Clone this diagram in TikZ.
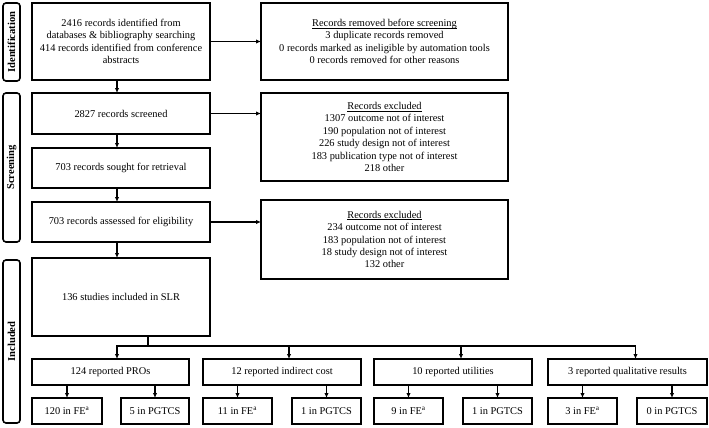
\documentclass[tikz,border=0pt]{standalone}
\usepackage{fontspec}
\setmainfont{Liberation Serif}
\usetikzlibrary{arrows.meta,calc}
\newcommand{\ttl}[1]{\underline{\smash{#1}}\vphantom{#1}}
\begin{document}
\begin{tikzpicture}[x=1pt,y=-1pt,
  every node/.style={font=\fontsize{10.4}{12.4}\selectfont},
  box/.style={draw, line width=1.6pt, inner sep=0pt, outer sep=0pt, align=center, anchor=north west},
  lab/.style={draw, line width=1.6pt, rounded corners=3pt, inner sep=0pt, outer sep=0pt, anchor=north west},
  labtext/.style={rotate=90, font=\fontsize{10.6}{12}\selectfont\bfseries},
  arr/.style={line width=1.1pt, -{Latex[length=5pt,width=4.5pt]}},
  ln/.style={line width=1.1pt}]
\useasboundingbox (0,0) rectangle (709,428);
% stage labels
\node[lab, minimum width=17pt, minimum height=78pt] (L1) at (3,3) {};
\node[labtext] (T1) at (L1.center) {Identification};
\node[lab, minimum width=17pt, minimum height=149pt] (L2) at (3,93) {};
\node[labtext] (T2) at (L2.center) {Screening};
\node[lab, minimum width=17pt, minimum height=163pt] (L3) at (3,260) {};
\node[labtext] (T3) at (L3.center) {Included};
% main column
\node[box, minimum width=178pt, minimum height=77pt] (b1) at (32,3) {2416 records identified from\\databases \& bibliography searching\\414 records identified from conference\\abstracts};
\node[box, minimum width=178pt, minimum height=41pt] (b2) at (32,93) {2827 records screened};
\node[box, minimum width=178pt, minimum height=40pt] (b3) at (32,148) {703 records sought for retrieval};
\node[box, minimum width=178pt, minimum height=40pt] (b4) at (32,202) {703 records assessed for eligibility};
\node[box, minimum width=178pt, minimum height=78pt] (b5) at (32,258) {136 studies included in SLR};
% right column
\node[box, minimum width=247pt, minimum height=77pt] (r1) at (261,3) {\ttl{Records removed before screening}\\3 duplicate records removed\\0 records marked as ineligible by automation tools\\0 records removed for other reasons};
\node[box, minimum width=247pt, minimum height=88pt] (r2) at (261,93) {\ttl{Records excluded}\\1307 outcome not of interest\\190 population not of interest\\226 study design not of interest\\183 publication type not of interest\\218 other};
\node[box, minimum width=247pt, minimum height=79pt] (r3) at (261,200) {\ttl{Records excluded}\\234 outcome not of interest\\183 population not of interest\\18 study design not of interest\\132 other};
% categories
\node[box, minimum width=157pt, minimum height=26pt] (c1) at (32,359) {124 reported PROs};
\node[box, minimum width=158pt, minimum height=26pt] (c2) at (203,359) {12 reported indirect cost};
\node[box, minimum width=158pt, minimum height=26pt] (c3) at (374,359) {10 reported utilities};
\node[box, minimum width=159pt, minimum height=26pt] (c4) at (548,359) {3 reported qualitative results};
% leaves
\node[box, minimum width=70pt, minimum height=26pt] (l1) at (32,398) {120 in FE\textsuperscript{a}};
\node[box, minimum width=68pt, minimum height=26pt] (l2) at (121,398) {5 in PGTCS};
\node[box, minimum width=69pt, minimum height=26pt] (l3) at (203,398) {11 in FE\textsuperscript{a}};
\node[box, minimum width=69pt, minimum height=26pt] (l4) at (292,398) {1 in PGTCS};
\node[box, minimum width=69pt, minimum height=26pt] (l5) at (374,398) {9 in FE\textsuperscript{a}};
\node[box, minimum width=69pt, minimum height=26pt] (l6) at (463,398) {1 in PGTCS};
\node[box, minimum width=69pt, minimum height=26pt] (l7) at (548,398) {3 in FE\textsuperscript{a}};
\node[box, minimum width=70pt, minimum height=26pt] (l8) at (637,398) {0 in PGTCS};
% vertical arrows
\draw[arr] ([xshift=-4pt]b1.south) -- ([xshift=-4pt]b2.north);
\draw[arr] ([xshift=-4pt]b2.south) -- ([xshift=-4pt]b3.north);
\draw[arr] ([xshift=-4pt]b3.south) -- ([xshift=-4pt]b4.north);
\draw[arr] ([xshift=-4pt]b4.south) -- ([xshift=-4pt]b5.north);
% horizontal arrows
\draw[arr] (b1.east) -- (b1.east -| r1.west);
\draw[arr] (b2.east) -- (b2.east -| r2.west);
\draw[arr] (b4.east) -- (b4.east -| r3.west);
% branching
\coordinate (j) at ([xshift=27pt]b5.south |- 0,346);
\draw[ln] ([xshift=27pt]b5.south) -- (j);
\draw[arr] (j) -| ([xshift=6.5pt]c1.north);
\draw[arr] (j) -| ([xshift=7pt]c2.north);
\draw[arr] (j) -| ([xshift=8pt]c3.north);
\draw[arr] (j) -| ([xshift=8pt]c4.north);
% category to leaves
\draw[arr] (c1.south -| l1.north) -- (l1.north);
\draw[arr] (c1.south -| l2.north) -- (l2.north);
\draw[arr] (c2.south -| l3.north) -- (l3.north);
\draw[arr] (c2.south -| l4.north) -- (l4.north);
\draw[arr] (c3.south -| l5.north) -- (l5.north);
\draw[arr] (c3.south -| l6.north) -- (l6.north);
\draw[arr] (c4.south -| l7.north) -- (l7.north);
\draw[arr] (c4.south -| l8.north) -- (l8.north);
\end{tikzpicture}
\end{document}
